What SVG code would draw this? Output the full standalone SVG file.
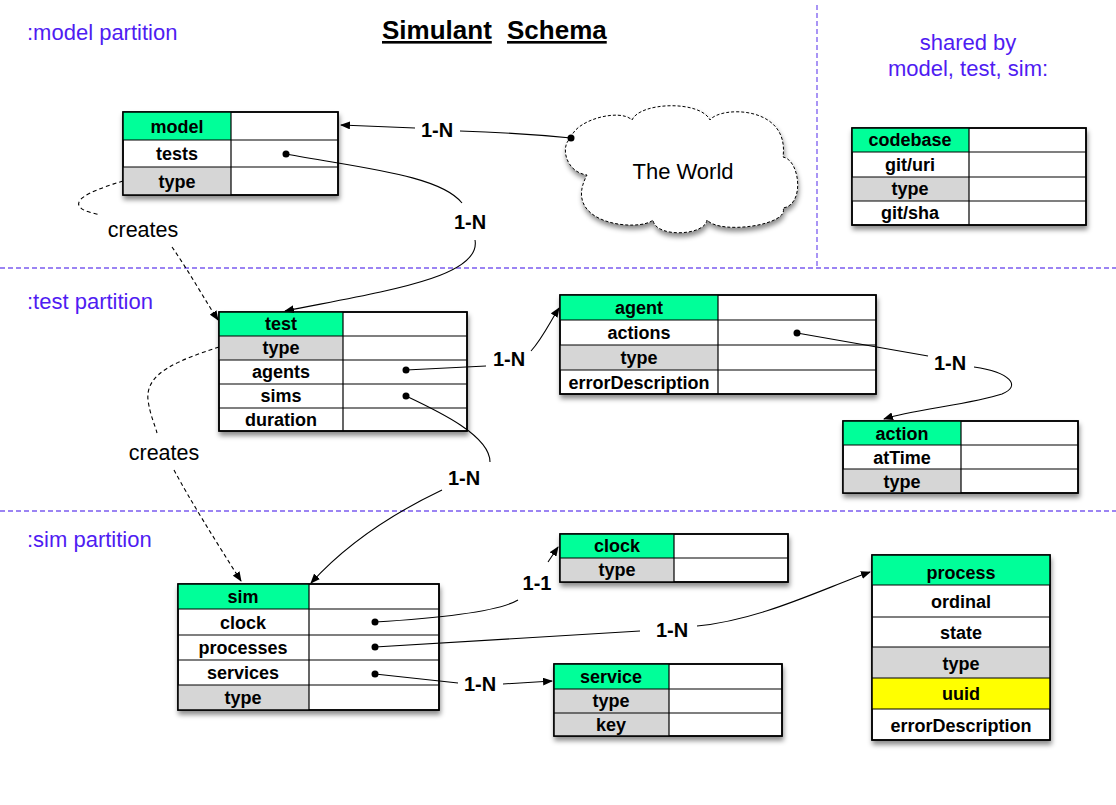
<svg xmlns="http://www.w3.org/2000/svg" width="1116" height="805" viewBox="0 0 1116 805">
<defs>
<style>
.t{font-family:"Liberation Sans",Arial,sans-serif;font-weight:bold;font-size:18px;fill:#000;text-anchor:middle}
.lbl{font-family:"Liberation Sans",Arial,sans-serif;font-weight:bold;font-size:20px;fill:#000;text-anchor:middle}
.cr{font-family:"Liberation Sans",Arial,sans-serif;font-size:21.5px;fill:#000;text-anchor:middle}
.part{font-family:"Liberation Sans",Arial,sans-serif;font-size:22px;fill:#4f1cf2}
.title{font-family:"Liberation Sans",Arial,sans-serif;font-weight:bold;font-size:26px;fill:#000;text-decoration:underline}
.sep{stroke:#7b5cf0;stroke-width:1.3;stroke-dasharray:5,3;fill:none}
.box{fill:#fff;stroke:#000;stroke-width:1.5;filter:url(#sh)}
.hdr{fill:#00ff99}
.g{fill:#d6d6d6}
.y{fill:#ffff00}
.grid{stroke:#000;stroke-width:1.2;fill:none}
.border{fill:none;stroke:#000;stroke-width:1.5}
.c{fill:none;stroke:#000;stroke-width:1.1}
.d{fill:none;stroke:#000;stroke-width:1.1;stroke-dasharray:4,3}
</style>
<filter id="sh" x="-10%" y="-10%" width="130%" height="140%">
<feDropShadow dx="1" dy="4" stdDeviation="2.5" flood-color="#000" flood-opacity="0.45"/>
</filter>
<marker id="arr" markerWidth="10" markerHeight="8" refX="9" refY="4" orient="auto" markerUnits="userSpaceOnUse">
<path d="M0,0 L10,4 L0,8 Z" fill="#000"/>
</marker>
<marker id="dot" markerWidth="8" markerHeight="8" refX="4" refY="4" markerUnits="userSpaceOnUse">
<circle cx="4" cy="4" r="3.5" fill="#000"/>
</marker>
</defs>
<rect width="1116" height="805" fill="#fff"/>

<g id="separators">
<line class="sep" x1="817" y1="5" x2="817" y2="268"/>
<line class="sep" x1="0" y1="268" x2="1116" y2="268"/>
<line class="sep" x1="0" y1="511" x2="1116" y2="511"/>
</g>

<g id="labels">
<text class="part" x="27" y="40">:model partition</text>
<text class="part" x="27" y="309">:test partition</text>
<text class="part" x="27" y="547">:sim partition</text>
<text class="part" x="968" y="50" text-anchor="middle">shared by</text>
<text class="part" x="968" y="76" text-anchor="middle">model, test, sim:</text>
<text class="title" x="382" y="39">Simulant</text>
<text class="title" x="507" y="39">Schema</text>
</g>

<g id="world">
<path d="M571,138 C575,120 620,108 632,120 C640,102 700,100 710,120 C720,106 790,105 783,157 C800,160 805,205 783,208 C790,225 720,235 707,220 C705,236 655,238 653,220 C640,232 560,225 587,175 C565,172 560,145 571,138 Z" fill="#fff" stroke="#000" stroke-width="1" stroke-dasharray="3,2" filter="url(#sh)"/>
<text x="683" y="179" font-family="Liberation Sans, Arial, sans-serif" font-size="22" text-anchor="middle">The World</text>
</g>

<g id="codebase">
<rect class="box" x="852" y="128" width="234" height="97"/>
<rect class="hdr" x="852" y="128" width="117" height="24"/>
<rect class="g" x="852" y="177" width="117" height="24"/>
<path class="grid" d="M969,128V225 M852,152H1086 M852,177H1086 M852,201H1086"/>
<rect class="border" x="852" y="128" width="234" height="97"/>
<text class="t" x="910" y="146">codebase</text>
<text class="t" x="910" y="171">git/uri</text>
<text class="t" x="910" y="195">type</text>
<text class="t" x="910" y="219">git/sha</text>
</g>

<g id="model">
<rect class="box" x="123" y="112" width="215" height="83"/>
<rect class="hdr" x="123" y="112" width="108" height="28"/>
<rect class="g" x="123" y="167" width="108" height="28"/>
<path class="grid" d="M231,112V195 M123,140H338 M123,167H338"/>
<rect class="border" x="123" y="112" width="215" height="83"/>
<text class="t" x="177" y="133">model</text>
<text class="t" x="177" y="160">tests</text>
<text class="t" x="177" y="188">type</text>
</g>

<g id="test">
<rect class="box" x="219" y="312" width="248" height="119"/>
<rect class="hdr" x="219" y="312" width="124" height="24"/>
<rect class="g" x="219" y="336" width="124" height="24"/>
<path class="grid" d="M343,312V431 M219,336H467 M219,360H467 M219,384H467 M219,408H467"/>
<rect class="border" x="219" y="312" width="248" height="119"/>
<text class="t" x="281" y="330">test</text>
<text class="t" x="281" y="354">type</text>
<text class="t" x="281" y="378">agents</text>
<text class="t" x="281" y="402">sims</text>
<text class="t" x="281" y="426">duration</text>
</g>

<g id="agent">
<rect class="box" x="560" y="295" width="316" height="99"/>
<rect class="hdr" x="560" y="295" width="158" height="25"/>
<rect class="g" x="560" y="345" width="158" height="25"/>
<path class="grid" d="M718,295V394 M560,320H876 M560,345H876 M560,370H876"/>
<rect class="border" x="560" y="295" width="316" height="99"/>
<text class="t" x="639" y="314">agent</text>
<text class="t" x="639" y="339">actions</text>
<text class="t" x="639" y="364">type</text>
<text class="t" x="639" y="389">errorDescription</text>
</g>

<g id="action">
<rect class="box" x="843" y="421" width="235" height="72"/>
<rect class="hdr" x="843" y="421" width="118" height="24"/>
<rect class="g" x="843" y="469" width="118" height="24"/>
<path class="grid" d="M961,421V493 M843,445H1078 M843,469H1078"/>
<rect class="border" x="843" y="421" width="235" height="72"/>
<text class="t" x="902" y="440">action</text>
<text class="t" x="902" y="464">atTime</text>
<text class="t" x="902" y="488">type</text>
</g>

<g id="sim">
<rect class="box" x="178" y="584" width="261" height="126"/>
<rect class="hdr" x="178" y="584" width="131" height="25"/>
<rect class="g" x="178" y="685" width="131" height="25"/>
<path class="grid" d="M309,584V710 M178,609H439 M178,635H439 M178,660H439 M178,685H439"/>
<rect class="border" x="178" y="584" width="261" height="126"/>
<text class="t" x="243" y="603">sim</text>
<text class="t" x="243" y="629">clock</text>
<text class="t" x="243" y="654">processes</text>
<text class="t" x="243" y="679">services</text>
<text class="t" x="243" y="704">type</text>
</g>

<g id="clock">
<rect class="box" x="560" y="534" width="228" height="48"/>
<rect class="hdr" x="560" y="534" width="114" height="24"/>
<rect class="g" x="560" y="558" width="114" height="24"/>
<path class="grid" d="M674,534V582 M560,558H788"/>
<rect class="border" x="560" y="534" width="228" height="48"/>
<text class="t" x="617" y="552">clock</text>
<text class="t" x="617" y="576">type</text>
</g>

<g id="service">
<rect class="box" x="554" y="664" width="228" height="72"/>
<rect class="hdr" x="554" y="664" width="115" height="25"/>
<rect class="g" x="554" y="689" width="115" height="47"/>
<path class="grid" d="M669,664V736 M554,689H782 M554,713H782"/>
<rect class="border" x="554" y="664" width="228" height="72"/>
<text class="t" x="611" y="683">service</text>
<text class="t" x="611" y="707">type</text>
<text class="t" x="611" y="731">key</text>
</g>

<g id="process">
<rect class="box" x="872" y="555" width="178" height="185"/>
<rect class="hdr" x="872" y="555" width="178" height="30"/>
<rect class="g" x="872" y="647" width="178" height="31"/>
<rect class="y" x="872" y="678" width="178" height="31"/>
<path class="grid" d="M872,585H1050 M872,617H1050 M872,647H1050 M872,678H1050 M872,709H1050"/>
<rect class="border" x="872" y="555" width="178" height="185"/>
<text class="t" x="961" y="579">process</text>
<text class="t" x="961" y="608">ordinal</text>
<text class="t" x="961" y="639">state</text>
<text class="t" x="961" y="670">type</text>
<text class="t" x="961" y="700">uuid</text>
<text class="t" x="961" y="732">errorDescription</text>
</g>

<g id="connectors">
<path class="c" d="M571,138 Q520,133 460,131" marker-start="url(#dot)"/>
<path class="c" d="M415,128 L341,125" marker-end="url(#arr)"/>
<text class="lbl" x="437" y="137">1-N</text>

<path class="c" d="M286,154 C360,168 440,175 462,203" marker-start="url(#dot)"/>
<path class="c" d="M475,240 C482,278 380,292 285,311" marker-end="url(#arr)"/>
<text class="lbl" x="470" y="229">1-N</text>

<path class="c" d="M406,370 L486,366" marker-start="url(#dot)"/>
<path class="c" d="M531,351 C542,339 550,322 559,308" marker-end="url(#arr)"/>
<text class="lbl" x="509" y="366">1-N</text>

<path class="c" d="M797,333 L928,356" marker-start="url(#dot)"/>
<path class="c" d="M974,367 C1010,372 1022,386 1002,394 C972,404 912,410 884,419" marker-end="url(#arr)"/>
<text class="lbl" x="950" y="370">1-N</text>

<path class="c" d="M406,396 C440,412 490,436 490,462" marker-start="url(#dot)"/>
<path class="c" d="M442,490 C400,510 350,540 311,583" marker-end="url(#arr)"/>
<text class="lbl" x="464" y="485">1-N</text>

<path class="c" d="M375,622 C440,618 498,612 518,600" marker-start="url(#dot)"/>
<path class="c" d="M548,562 L558,547" marker-end="url(#arr)"/>
<text class="lbl" x="537" y="590">1-1</text>

<path class="c" d="M375,647 L640,631" marker-start="url(#dot)"/>
<path class="c" d="M697,626 C760,620 820,590 870,572" marker-end="url(#arr)"/>
<text class="lbl" x="672" y="637">1-N</text>

<path class="c" d="M375,674 L458,683" marker-start="url(#dot)"/>
<path class="c" d="M503,684 L552,681" marker-end="url(#arr)"/>
<text class="lbl" x="480" y="691">1-N</text>

<path class="d" d="M123,181 C100,188 72,198 80,207 C84,212 94,213 100,215"/>
<path class="d" d="M172,247 C188,270 205,300 218,320" marker-end="url(#arr)"/>
<text class="cr" x="143" y="237">creates</text>

<path class="d" d="M219,347 C180,360 145,372 148,400 C150,415 155,425 157,433"/>
<path class="d" d="M174,470 C190,500 215,540 241,581" marker-end="url(#arr)"/>
<text class="cr" x="164" y="460">creates</text>
</g>
</svg>
